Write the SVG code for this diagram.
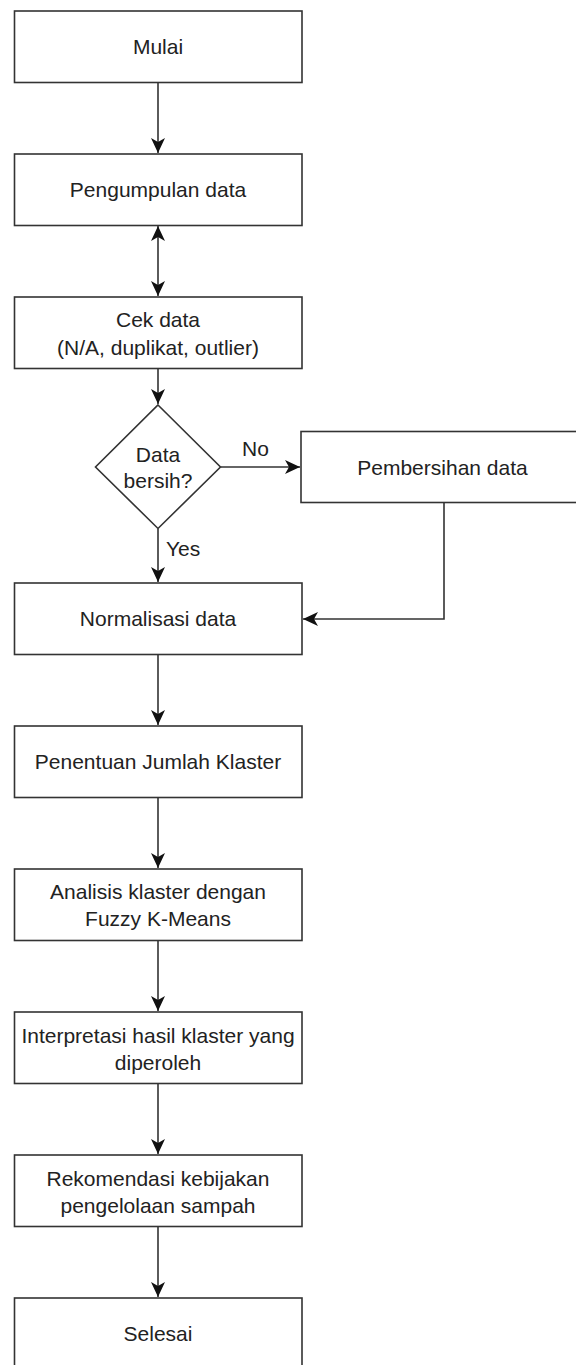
<svg xmlns="http://www.w3.org/2000/svg" width="576" height="1365" viewBox="0 0 576 1365">
<style>
.box{fill:#ffffff;stroke:#333333;stroke-width:1.6}
.t{font-family:"Liberation Sans",Arial,sans-serif;font-size:21px;fill:#222222;text-anchor:middle}
.lbl{font-family:"Liberation Sans",Arial,sans-serif;font-size:21px;fill:#222222}
.c{fill:none;stroke:#333333;stroke-width:1.6}
</style>
<defs>
<marker id="ah" viewBox="0 0 16 16" refX="15" refY="8" markerWidth="16" markerHeight="16" markerUnits="userSpaceOnUse" orient="auto-start-reverse">
<path d="M0,1 L15,8 L0,15 L4,8 Z" fill="#111111"/>
</marker>
</defs>
<rect width="576" height="1365" fill="#ffffff"/>
<g id="connectors">
<path class="c" d="M158,82.5 V153" marker-end="url(#ah)"/>
<path class="c" d="M158,226 V296" marker-start="url(#ah)" marker-end="url(#ah)"/>
<path class="c" d="M158,369 V404" marker-end="url(#ah)"/>
<path class="c" d="M158,528.5 V582" marker-end="url(#ah)"/>
<path class="c" d="M220.5,467 H300" marker-end="url(#ah)"/>
<path class="c" d="M444,503 V619 H303" marker-end="url(#ah)"/>
<path class="c" d="M158,654.5 V725" marker-end="url(#ah)"/>
<path class="c" d="M158,797.5 V868" marker-end="url(#ah)"/>
<path class="c" d="M158,940.5 V1011" marker-end="url(#ah)"/>
<path class="c" d="M158,1083.5 V1154" marker-end="url(#ah)"/>
<path class="c" d="M158,1226.5 V1297" marker-end="url(#ah)"/>
<text class="lbl" x="242" y="456">No</text>
<text class="lbl" x="166" y="556">Yes</text>
</g>
<g id="mulai"><rect class="box" x="14.5" y="11" width="287.5" height="71.5"/><text class="t" x="158" y="54">Mulai</text></g>
<g id="pengumpulan"><rect class="box" x="14.5" y="154" width="287.5" height="71.5"/><text class="t" x="158" y="197">Pengumpulan data</text></g>
<g id="cek"><rect class="box" x="14.5" y="297" width="287.5" height="71.5"/><text class="t" x="158" y="327">Cek data</text><text class="t" x="158" y="355">(N/A, duplikat, outlier)</text></g>
<g id="decision"><polygon class="box" points="158,405 220.5,467 158,528.5 95.5,467"/><text class="t" x="158" y="462">Data</text><text class="t" x="158" y="488">bersih?</text></g>
<g id="pembersihan"><rect class="box" x="301" y="431.5" width="288" height="71"/><text class="t" x="442.5" y="474.5">Pembersihan data</text></g>
<g id="normalisasi"><rect class="box" x="14.5" y="583" width="287.5" height="71.5"/><text class="t" x="158" y="626">Normalisasi data</text></g>
<g id="penentuan"><rect class="box" x="14.5" y="726" width="287.5" height="71.5"/><text class="t" x="158" y="769">Penentuan Jumlah Klaster</text></g>
<g id="analisis"><rect class="box" x="14.5" y="869" width="287.5" height="71.5"/><text class="t" x="158" y="899">Analisis klaster dengan</text><text class="t" x="158" y="926">Fuzzy K-Means</text></g>
<g id="interpretasi"><rect class="box" x="14.5" y="1012" width="287.5" height="71.5"/><text class="t" x="158" y="1043">Interpretasi hasil klaster yang</text><text class="t" x="158" y="1070">diperoleh</text></g>
<g id="rekomendasi"><rect class="box" x="14.5" y="1155" width="287.5" height="71.5"/><text class="t" x="158" y="1186">Rekomendasi kebijakan</text><text class="t" x="158" y="1213">pengelolaan sampah</text></g>
<g id="selesai"><rect class="box" x="14.5" y="1298" width="287.5" height="72"/><text class="t" x="158" y="1341">Selesai</text></g>
</svg>
